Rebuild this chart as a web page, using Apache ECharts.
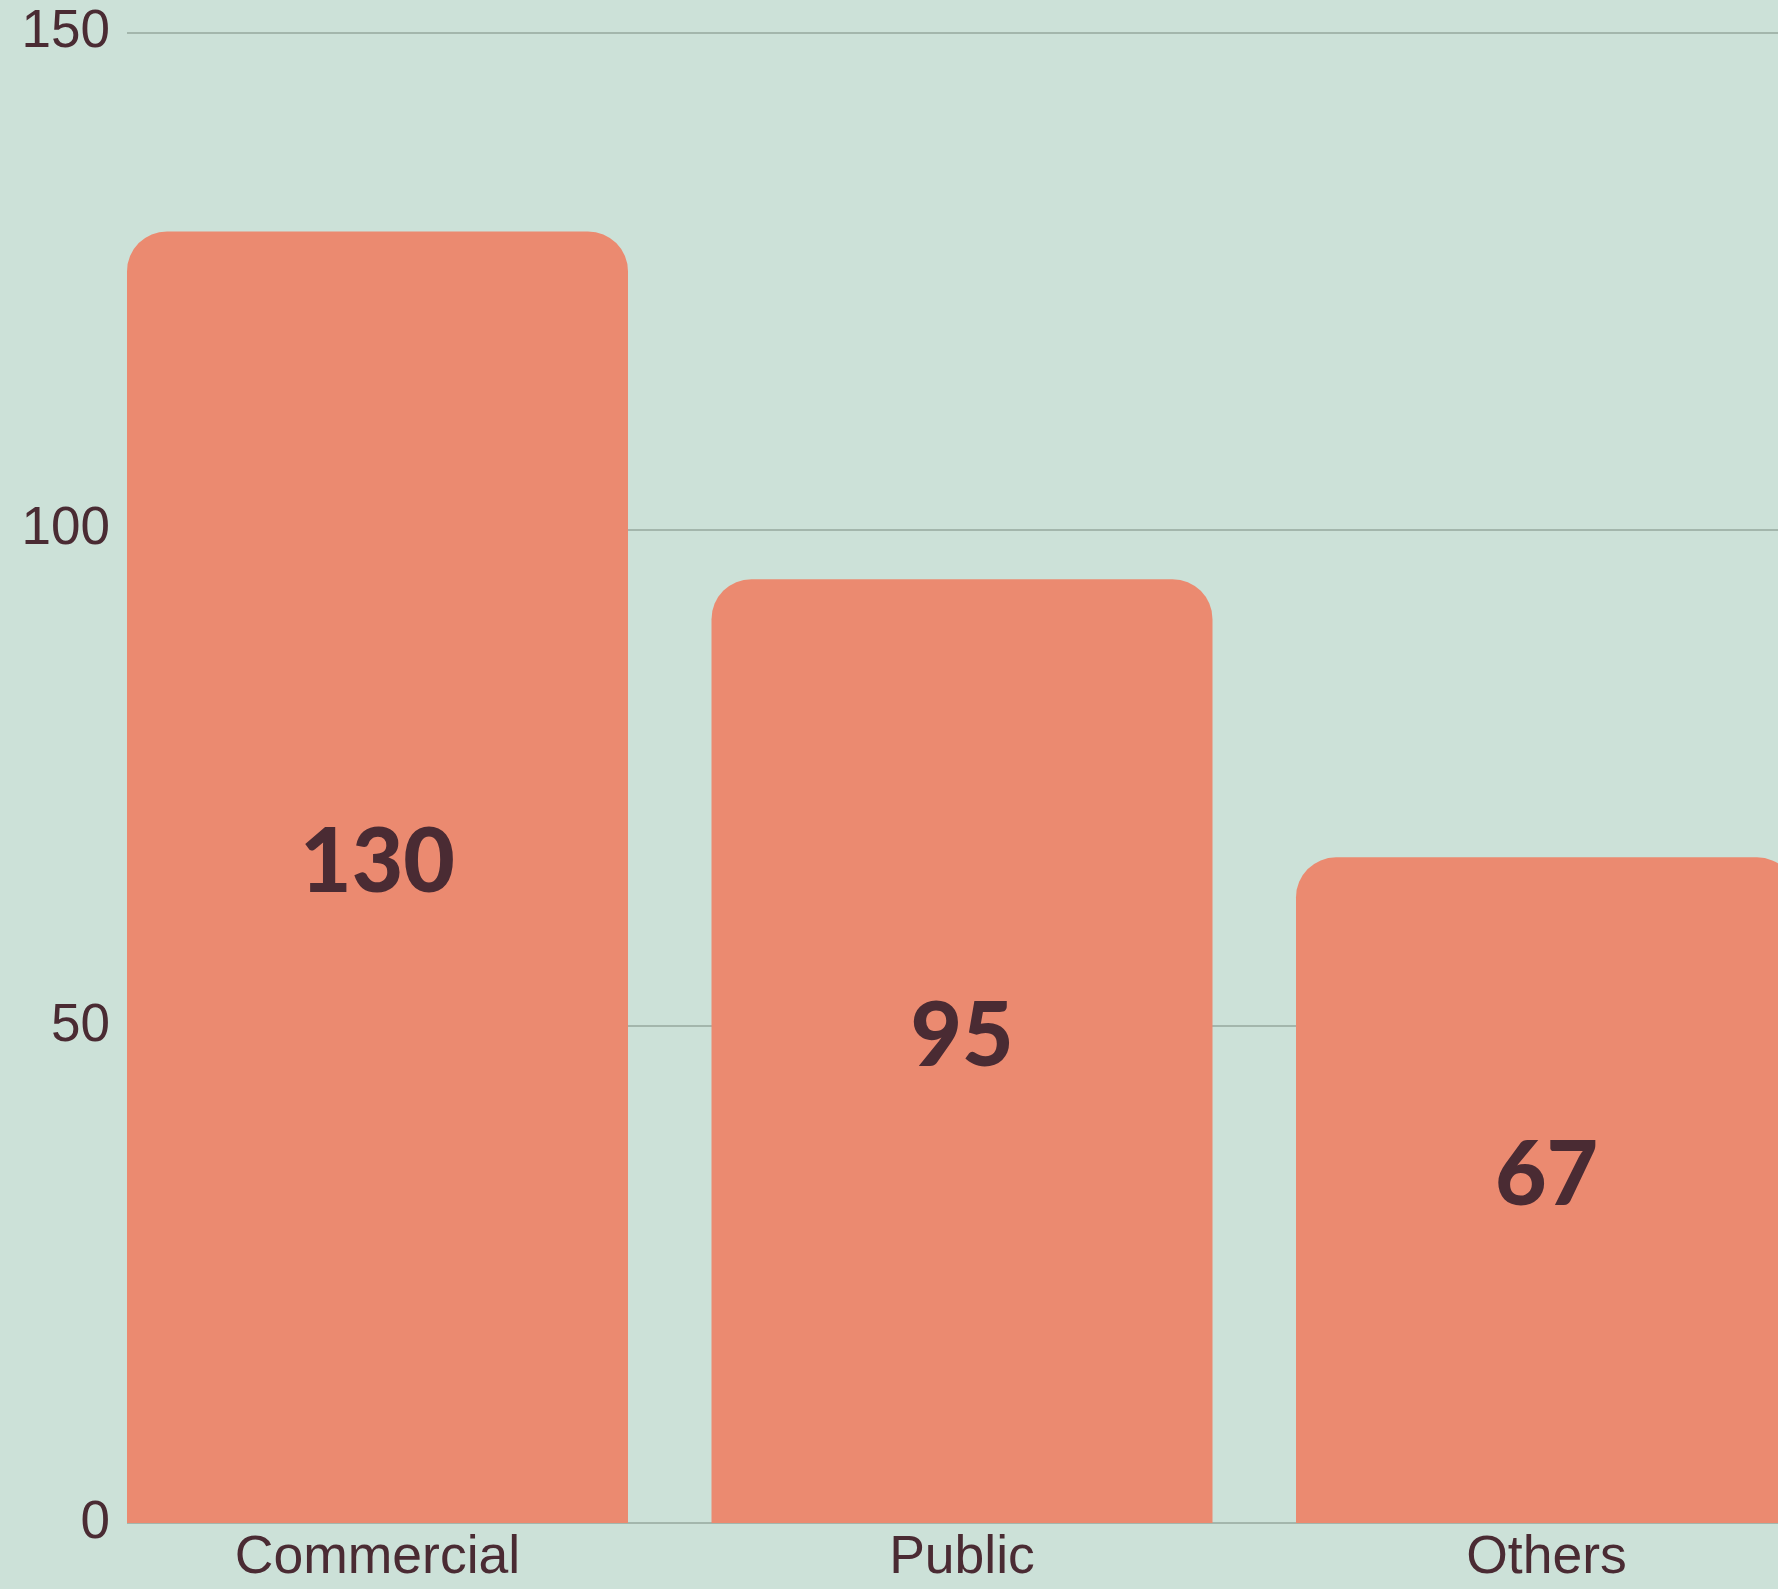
<!DOCTYPE html>
<html>
<head>
<meta charset="utf-8">
<style>
  html, body { margin: 0; padding: 0; background: #CCE1D8; }
  #chart { width: 1778px; height: 1589px; }
</style>
<script src="https://cdn.jsdelivr.net/npm/echarts@6/dist/echarts.min.js"></script>
</head>
<body>
<div id="chart"></div>
<script>
const categories = ['Commercial', 'Public', 'Others'];
const values = [130, 95, 67];
const yTicks = [0, 50, 100, 150];

const textColor = '#4A2B33';
const chart = echarts.init(document.getElementById('chart'), null, { renderer: 'canvas' });
const option = {
  backgroundColor: '#CCE1D8',
  animation: false,
  grid: [
    { left: 127, right: 0, top: 32.7, bottom: 66, containLabel: false, outerBoundsMode: 'none' },
    { left: 85.25, width: 1753.5, top: 32.7, bottom: 66, containLabel: false, outerBoundsMode: 'none' }
  ],
  xAxis: [
    { type: 'value', gridIndex: 0, show: false, min: 0, max: 1 },
    {
      type: 'category', gridIndex: 1, data: categories,
      axisLine: { show: false }, axisTick: { show: false },
      axisLabel: { color: textColor, fontFamily: 'Liberation Sans', fontSize: 53.5, margin: 8 }
    }
  ],
  yAxis: [
    {
      type: 'value', gridIndex: 0,
      min: yTicks[0], max: yTicks[yTicks.length - 1], interval: yTicks[1] - yTicks[0],
      axisLine: { show: false }, axisTick: { show: false },
      axisLabel: { color: textColor, fontFamily: 'Liberation Sans', fontSize: 53, margin: 17 },
      splitLine: { show: true, lineStyle: { color: '#A3B6AC', width: 2 } }
    },
    {
      type: 'value', gridIndex: 1, show: false,
      min: yTicks[0], max: yTicks[yTicks.length - 1], interval: yTicks[1] - yTicks[0],
      splitLine: { show: false }
    }
  ],
  series: [{
    type: 'bar',
    xAxisIndex: 1, yAxisIndex: 1,
    data: values,
    barWidth: 501,
    itemStyle: { color: '#EB8A70', borderRadius: [40, 40, 0, 0] },
    label: {
      show: true, position: 'inside', offset: [0, -14],
      color: '#4A2B33', fontFamily: 'Lato', fontWeight: 900, fontSize: 89
    }
  }]
};
chart.setOption(option);
</script>
</body>
</html>
